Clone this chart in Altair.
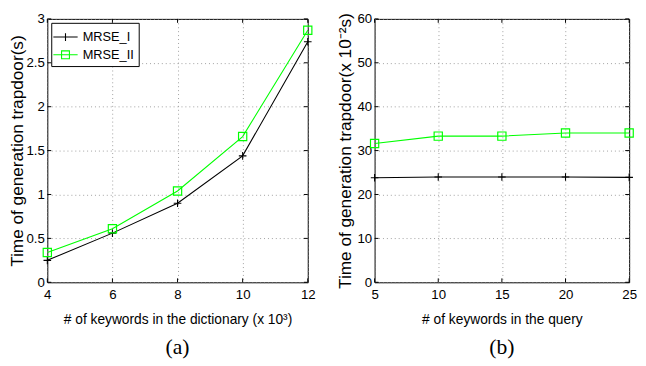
import altair as alt
import pandas as pd

series_names = ["MRSE_I", "MRSE_II"]
series_colors = ["black", "#00ff00"]

# Panel (a)
a_x = [4, 6, 8, 10, 12]
a_mrse1 = [0.25, 0.56, 0.90, 1.44, 2.74]
a_mrse2 = [0.34, 0.61, 1.04, 1.66, 2.87]
a_xticks = [4, 6, 8, 10, 12]
a_yticks = [0, 0.5, 1, 1.5, 2, 2.5, 3]

# Panel (b)
b_x = [5, 10, 15, 20, 25]
b_mrse1 = [23.8, 24.0, 24.0, 24.0, 23.9]
b_mrse2 = [31.6, 33.3, 33.3, 34.0, 34.0]
b_xticks = [5, 10, 15, 20, 25]
b_yticks = [0, 10, 20, 30, 40, 50, 60]

PLUS = "M-1,0H1M0,-1V1"
LEG_PLUS = "M-1.3,0H1.3M0,-0.42V0.42"
LEG_SQ = "M-1.3,0H1.3M-0.42,-0.42H0.42V0.42H-0.42Z"

H = 268
FONT = "Liberation Sans"


def panel(xv, s1, s2, xticks, yticks, xtitle, ytitle, caption, W):
    df = pd.DataFrame({
        "x": xv + xv,
        "y": s1 + s2,
        "series": [series_names[0]] * len(xv) + [series_names[1]] * len(xv),
    })
    xs = alt.Scale(domain=[xticks[0], xticks[-1]], nice=False, zero=False)
    ys = alt.Scale(domain=[yticks[0], yticks[-1]], nice=False, zero=False)
    xenc = alt.X("x:Q", scale=xs, axis=alt.Axis(
        values=xticks, title=xtitle, grid=True, ticks=False, domain=False,
        labelFlush=False, labelPadding=6, titlePadding=11, format="~r",
        titleFontSize=14))
    yenc = alt.Y("y:Q", scale=ys, axis=alt.Axis(
        values=yticks, title=ytitle, grid=True, ticks=False, domain=False,
        labelFlush=False, labelPadding=3, minExtent=20, maxExtent=20,
        titlePadding=1, format="~r", titleFontSize=17.5))
    base = alt.Chart(df)
    l1 = base.transform_filter(alt.datum.series == series_names[0]).mark_line(
        color=series_colors[0], strokeWidth=1.1,
        point=alt.OverlayMarkDef(shape=PLUS, filled=False, size=60,
                                 color=series_colors[0], strokeWidth=1.1),
    ).encode(x=xenc, y=yenc)
    l2 = base.transform_filter(alt.datum.series == series_names[1]).mark_line(
        color=series_colors[1], strokeWidth=1.1,
        point=alt.OverlayMarkDef(shape="square", filled=False, size=70,
                                 color=series_colors[1], strokeWidth=1.2),
    ).encode(x=xenc, y=yenc)
    leg = base.mark_point(opacity=0, filled=False).encode(
        x=xenc, y=yenc,
        shape=alt.Shape("series:N", scale=alt.Scale(domain=series_names, range=[LEG_PLUS, LEG_SQ]),
                        legend=alt.Legend(title=None)),
        color=alt.Color("series:N", scale=alt.Scale(domain=series_names, range=series_colors),
                        legend=alt.Legend(title=None)),
    )
    xt = pd.DataFrame({"x": xticks})
    yt = pd.DataFrame({"y": yticks})
    tx1 = alt.Chart(xt).mark_rule(color="black").encode(
        x=xenc, y=alt.value(0), y2=alt.value(4))
    tx2 = alt.Chart(xt).mark_rule(color="black").encode(
        x=xenc, y=alt.value(H), y2=alt.value(H - 4))
    ty1 = alt.Chart(yt).mark_rule(color="black").encode(
        y=yenc, x=alt.value(0), x2=alt.value(4))
    ty2 = alt.Chart(yt).mark_rule(color="black").encode(
        y=yenc, x=alt.value(W), x2=alt.value(W - 4))
    return alt.layer(l1, l2, leg, tx1, tx2, ty1, ty2).properties(
        width=W, height=H,
        title=alt.TitleParams(caption, orient="bottom", anchor="middle",
                              font="Liberation Serif", fontSize=22,
                              fontWeight="normal", offset=11, color="black"),
    )


pa = panel(a_x, a_mrse1, a_mrse2, a_xticks, a_yticks,
           "# of keywords in the dictionary (x 10³)",
           "Time of generation trapdoor(s)", "(a)", 265)
pb = panel(b_x, b_mrse1, b_mrse2, b_xticks, b_yticks,
           "# of keywords in the query",
           "Time of generation trapdoor(x 10⁻²s)", "(b)", 259)

chart = alt.hconcat(pa, pb, spacing=19).properties(
    padding={"left": 0, "top": 0, "right": 0, "bottom": 0}
).configure_view(
    stroke="black", strokeWidth=1
).configure_axis(
    labelFont=FONT, titleFont=FONT, labelFontSize=13.5, titleFontSize=13,
    titleFontWeight="normal", labelColor="black", titleColor="black",
    gridColor="#888", gridDash=[1, 3], gridWidth=0.8,
).configure_legend(
    orient="top-left", offset=4, padding=4, strokeColor="black", fillColor="white",
    cornerRadius=0, labelFont=FONT, labelFontSize=13, labelColor="black",
    symbolSize=361, symbolStrokeWidth=1.1, symbolOpacity=1, rowPadding=0,
    labelOffset=7,
)

chart.save("out.html", embed_options={"renderer": "svg", "actions": False})
